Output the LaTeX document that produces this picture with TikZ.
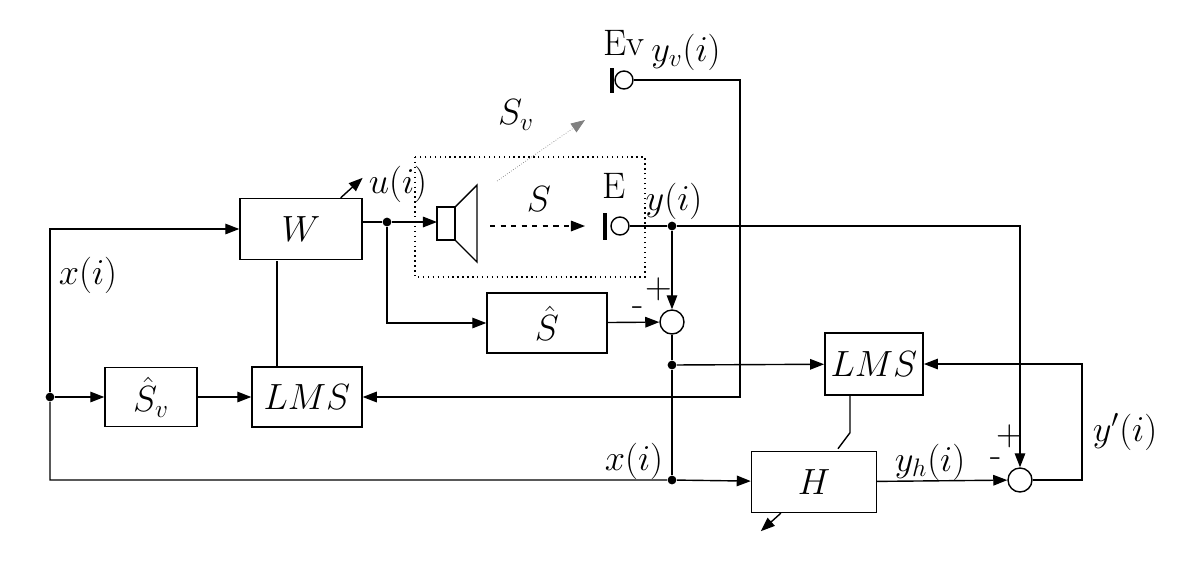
\documentclass[tikz,border=0pt]{standalone}
\usetikzlibrary{arrows.meta,positioning}
\tikzset{
    big/.style={font=\fontsize{21}{24}\selectfont},
    blk/.style={draw,thick,minimum width=#1,minimum height=1.22cm,big},
    blk/.default=2.4cm,
    sum/.style={draw,thick,circle,minimum size=0.48cm,inner sep=0pt},
    dot/.style={circle,fill,inner sep=0pt,minimum size=5pt},
    sig/.style={big,inner sep=1pt},
    >={Triangle[length=8pt,width=6pt]},
}
\begin{document}
\begin{tikzpicture}[x=0.02cm,y=-0.02cm,thick]
    \useasboundingbox (0,0) rectangle (1200,562);

    \node[blk=2.44cm] (w) at (301,229) {$W$};
    \node[blk=1.84cm,minimum height=1.18cm] (sv) at (151,397) {$\hat{S}_v$};
    \node[blk=2.2cm,minimum height=1.2cm] (lms1) at (307,397) {$LMS$};
    \node[blk=2.4cm,minimum height=1.2cm] (shat) at (547,323) {$\hat{S}$};
    \node[blk=1.92cm,minimum height=1.24cm] (lms2) at (874,364) {$LMS$};
    \node[blk=2.5cm] (h) at (814,482) {$H$};
    \node[sum] (s1) at (672,322) {};
    \node[sum] (s2) at (1020,480) {};

    \node[dot] (dx) at (50,397) {};
    \node[dot] (du) at (387,222) {};
    \node[dot] (dy) at (672,226) {};
    \node[dot] (de) at (672,365) {};
    \node[dot] (dx2) at (672,480) {};

    % loudspeaker and microphones
    \draw (437,207) rectangle (455,240);
    \draw (455,207) -- (477,185) -- (477,262) -- (455,240);
    \coordinate (spk) at (437,222);
    \draw[line width=2pt] (605,213) -- (605,240);
    \node[draw,circle,minimum size=0.36cm,inner sep=0pt] (mice) at (620,226) {};
    \draw[line width=2pt] (612,68) -- (612,93);
    \node[draw,circle,minimum size=0.36cm,inner sep=0pt] (micv) at (624,80) {};
    \draw[dotted] (415,157) rectangle (645,277);
    \draw[->,dashed] (490,226) -- (585,226);
    \draw[->,densely dotted,thin,gray] (497,181) -- (585,120);

    % connectors
    \draw[->] (dx) -- (sv);
    \draw[->] (sv) -- (lms1);
    \draw[->] (dx) |- (w.west);
    \draw[->] (dx) |- (dx2) -- (h);
    \draw (lms1.north) ++(-30,0) -- ++(0,-105);
    \draw[->] (w.north east) ++(-22,0) -- ++(22,-20);
    \draw (w.east |- du) -- (du);
    \draw[->] (du) -- (spk);
    \draw[->] (du) |- (shat);
    \draw (mice) -- (dy);
    \draw[->] (dy) -| (s2);
    \draw[->] (dy) -- (s1);
    \draw[->] (shat) -- (s1);
    \draw (s1) -- (de) -- (dx2);
    \draw[->] (de) -- (lms2);
    \draw[->] (micv) -| (740,397) -- (lms1);
    \draw (lms2.south) ++(-24,0) coordinate (lb) -- ++(0,37) -- ++(-12,16);
    \draw[->] (h.south west) ++(30,0) -- ++(-20,18);
    \draw[->] (h) -- (s2);
    \draw[->] (s2) -- (1082,480) |- (lms2);

    % labels
    \node[sig] (lx) at (88,275) {$x(i)$};
    \node[sig] (lu) at (398,184) {$u(i)$};
    \node[sig] (ly) at (674,201) {$y(i)$};
    \node[sig] (le) at (614,186) {E};
    \node[sig] (lev) at (624,43) {Ev};
    \node[sig] (lyv) at (686,52) {$y_v(i)$};
    \node[sig] (ls) at (539,199) {$S$};
    \node[sig] (lsv) at (516,115) {$S_v$};
    \node[sig] (lp1) at (659,289) {+};
    \node[sig] (lm1) at (638,311) {-};
    \node[sig] (lx2) at (634,461) {$x(i)$};
    \node[sig] (lyh) at (930,462) {$y_h(i)$};
    \node[sig] (lm2) at (996,462) {-};
    \node[sig] (lp2) at (1010,436) {+};
    \node[sig] (lyp) at (1125,432) {$y'(i)$};
\end{tikzpicture}
\end{document}
